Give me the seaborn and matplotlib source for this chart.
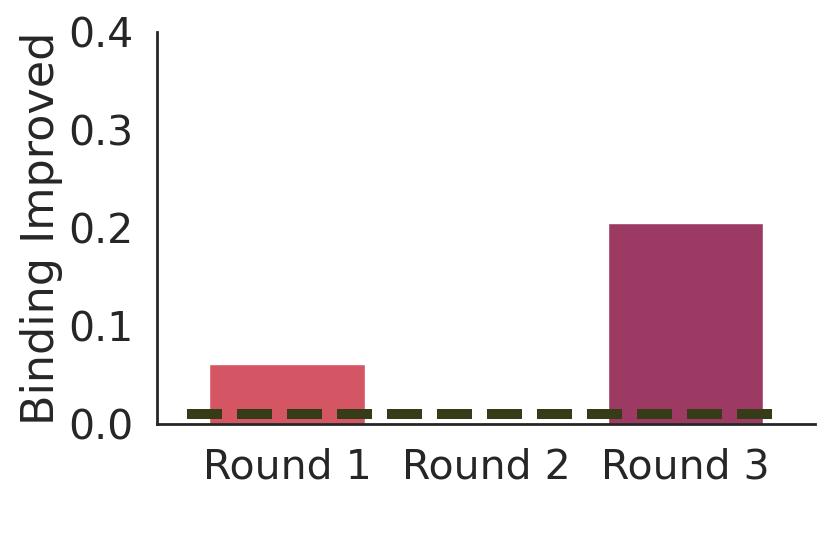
import matplotlib
matplotlib.use("Agg")
import matplotlib.pyplot as plt
import seaborn as sns
import pandas as pd

rounds = ["Round 1", "Round 2", "Round 3"]
binding_improved = [0.061, 0.0, 0.205]
bar_colors = ["#D45664", "#B04868", "#9D3A64"]
baseline = 0.01
y_ticks = [0.0, 0.1, 0.2, 0.3, 0.4]

sns.set_theme(style="white")
plt.rcParams["font.family"] = ["DejaVu Sans"]

df = pd.DataFrame({"round": rounds, "value": binding_improved})

fig = plt.figure(figsize=(8.31, 5.57), dpi=100)
ax = fig.add_axes([0.1895, 0.2388, 0.7915, 0.7037])

sns.barplot(data=df, x="round", y="value", hue="round", palette=bar_colors,
            legend=False, width=0.78, saturation=1, ax=ax)
ax.plot([-0.5, 2.5], [baseline, baseline], color="#363C18", lw=7.2,
        linestyle=(0, (3.5, 1.5)))

ax.set_xlim(-0.65, 2.65)
ax.set_ylim(0, 0.4)
ax.set_yticks(y_ticks)
ax.set_yticklabels([f"{t:.1f}" for t in y_ticks])
ax.set_xlabel("")
ax.set_ylabel("Binding Improved", fontsize=32, color="#262626", labelpad=4)
ax.tick_params(axis="both", labelsize=29.5, colors="#262626", length=0)
ax.tick_params(axis="x", pad=17)
ax.tick_params(axis="y", pad=17)
for s in ["top", "right"]:
    ax.spines[s].set_visible(False)
for s in ["left", "bottom"]:
    ax.spines[s].set_color("#262626")
    ax.spines[s].set_linewidth(2.0)

fig.savefig("out.png", dpi=100)
